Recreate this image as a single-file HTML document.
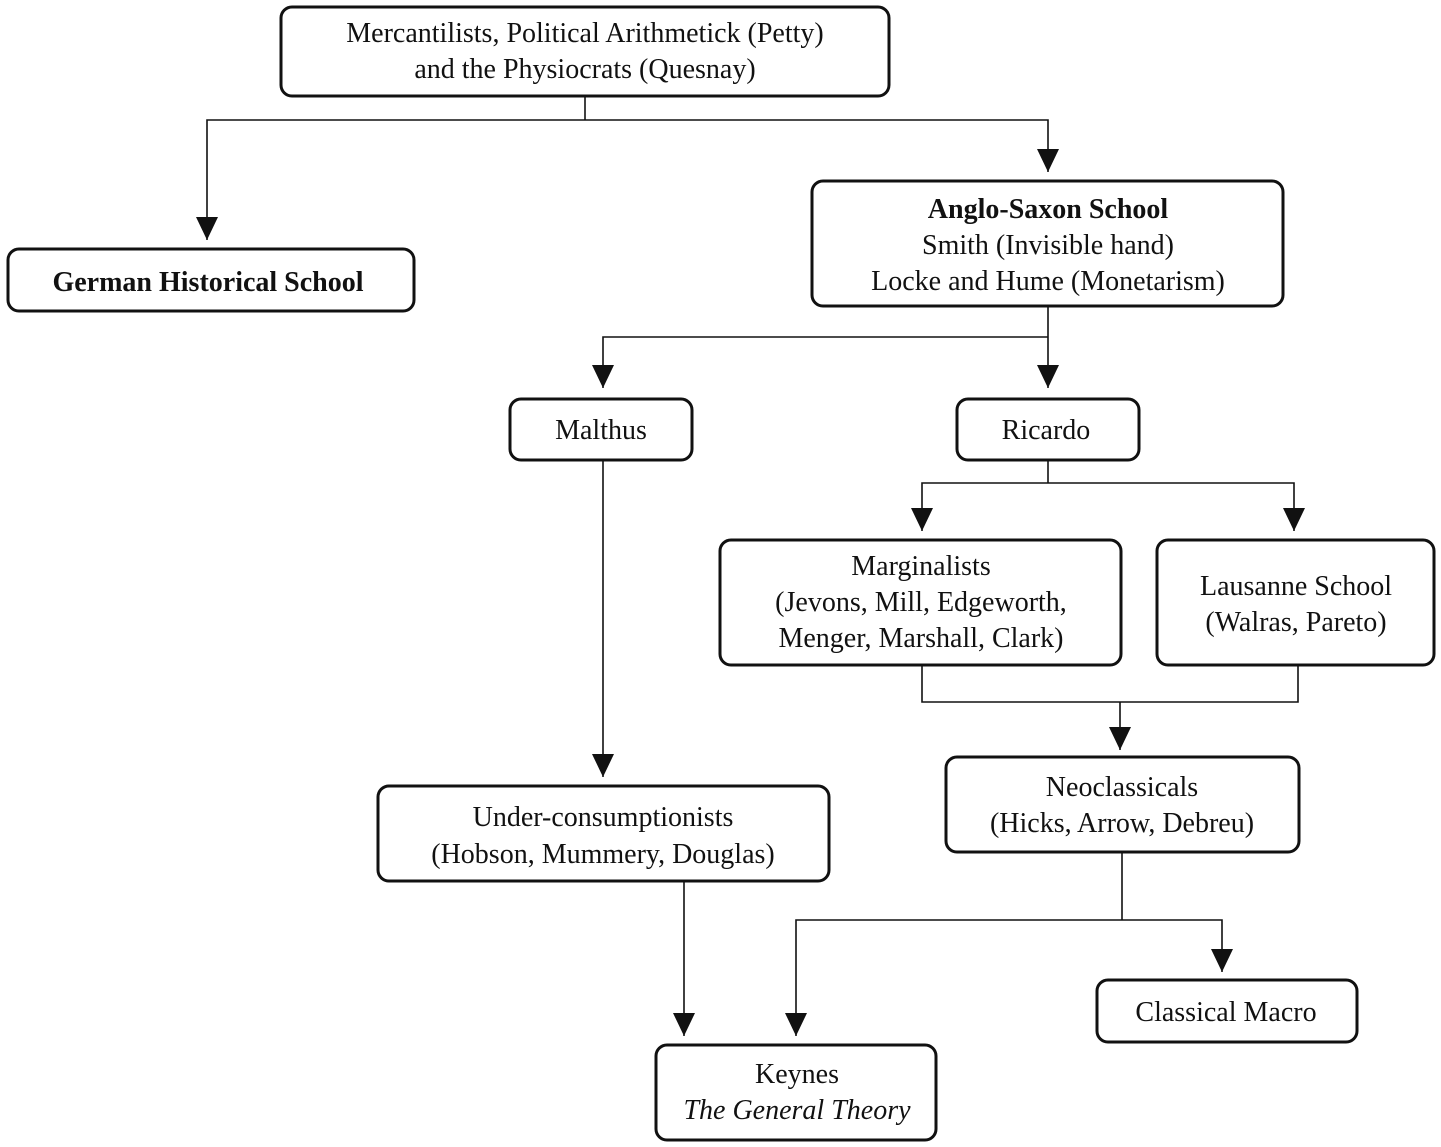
<!DOCTYPE html>
<html><head><meta charset="utf-8"><style>
html,body{margin:0;padding:0;background:#fff;}
svg{display:block;}
text{font-family:"Liberation Serif",serif;font-size:28px;fill:#111;text-anchor:middle;}
.b{font-weight:bold;}
rect{fill:#fff;stroke:#111;stroke-width:3;}
line,polyline{stroke:#111;stroke-width:1.6;fill:none;}
polygon{fill:#111;}
</style></head><body>
<svg width="1441" height="1147" viewBox="0 0 1441 1147">
<!-- connectors -->
<polyline points="585,96 585,120"/>
<polyline points="207,240 207,120 1048,120 1048,172"/>
<polygon points="196,217 218,217 207,240"/>
<polygon points="1037,149 1059,149 1048,172"/>
<line x1="1048" y1="306" x2="1048" y2="388"/>
<polyline points="1048,337 603,337 603,388"/>
<polygon points="592,365 614,365 603,388"/>
<polygon points="1037,365 1059,365 1048,388"/>
<polyline points="1048,460 1048,483"/>
<polyline points="922,531 922,483 1294,483 1294,531"/>
<polygon points="911,508 933,508 922,531"/>
<polygon points="1283,508 1305,508 1294,531"/>
<polyline points="922,665 922,702 1298,702 1298,665"/>
<line x1="1120" y1="702" x2="1120" y2="750"/>
<polygon points="1109,727 1131,727 1120,750"/>
<line x1="603" y1="460" x2="603" y2="777"/>
<polygon points="592,754 614,754 603,777"/>
<line x1="684" y1="881" x2="684" y2="1036"/>
<polygon points="673,1013 695,1013 684,1036"/>
<polyline points="1122,852 1122,920"/>
<polyline points="796,1036 796,920 1222,920 1222,972"/>
<polygon points="785,1013 807,1013 796,1036"/>
<polygon points="1211,949 1233,949 1222,972"/>
<!-- boxes -->
<rect x="281" y="7" width="608" height="89" rx="11"/>
<text x="585" y="42">Mercantilists, Political Arithmetick (Petty)</text>
<text x="585" y="78">and the Physiocrats (Quesnay)</text>
<rect x="8" y="249" width="406" height="62" rx="11"/>
<text x="208" y="291" class="b">German Historical School</text>
<rect x="812" y="181" width="471" height="125" rx="11"/>
<text x="1048" y="218" class="b">Anglo-Saxon School</text>
<text x="1048" y="254">Smith (Invisible hand)</text>
<text x="1048" y="290">Locke and Hume (Monetarism)</text>
<rect x="510" y="399" width="182" height="61" rx="11"/>
<text x="601" y="439">Malthus</text>
<rect x="957" y="399" width="182" height="61" rx="11"/>
<text x="1046" y="439">Ricardo</text>
<rect x="720" y="540" width="401" height="125" rx="11"/>
<text x="921" y="575">Marginalists</text>
<text x="921" y="611">(Jevons, Mill, Edgeworth,</text>
<text x="921" y="647">Menger, Marshall, Clark)</text>
<rect x="1157" y="540" width="277" height="125" rx="11"/>
<text x="1296" y="595">Lausanne School</text>
<text x="1296" y="631">(Walras, Pareto)</text>
<rect x="946" y="757" width="353" height="95" rx="11"/>
<text x="1122" y="796">Neoclassicals</text>
<text x="1122" y="832">(Hicks, Arrow, Debreu)</text>
<rect x="378" y="786" width="451" height="95" rx="11"/>
<text x="603" y="826">Under-consumptionists</text>
<text x="603" y="863">(Hobson, Mummery, Douglas)</text>
<rect x="1097" y="980" width="260" height="62" rx="11"/>
<text x="1226" y="1021">Classical Macro</text>
<rect x="656" y="1045" width="280" height="95" rx="11"/>
<text x="797" y="1083">Keynes</text>
<text x="797" y="1119" font-style="italic">The General Theory</text>
</svg>
</body></html>
